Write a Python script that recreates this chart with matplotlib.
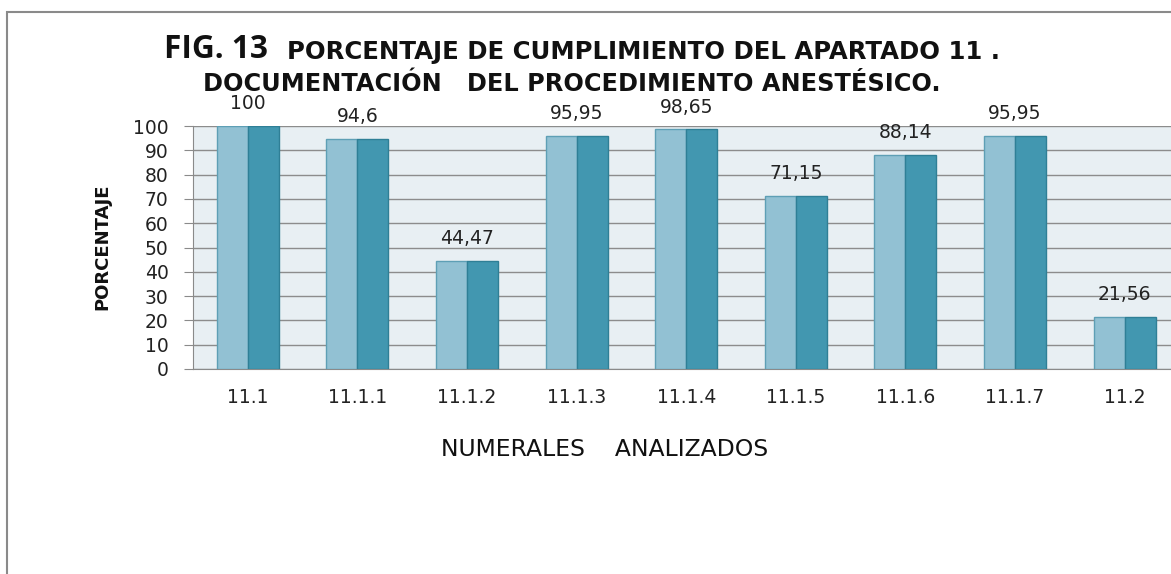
import matplotlib
matplotlib.use("Agg")
import matplotlib.pyplot as plt
from matplotlib.patches import Rectangle
import numpy as np

categories = ["11.1", "11.1.1", "11.1.2", "11.1.3", "11.1.4", "11.1.5", "11.1.6", "11.1.7", "11.2"]
serie_a = [100, 94.6, 44.47, 95.95, 98.65, 71.15, 88.14, 95.95, 21.56]
serie_b = [100, 94.6, 44.47, 95.95, 98.65, 71.15, 88.14, 95.95, 21.56]
yticks = [0, 10, 20, 30, 40, 50, 60, 70, 80, 90, 100]

W, H = 1171, 574
fig = plt.figure(figsize=(W / 100, H / 100), dpi=100)
fig.patch.set_facecolor("white")
renderer = fig.canvas.get_renderer()

def px(x0, y0, x1, y1):
    return [x0 / W, 1 - y1 / H, (x1 - x0) / W, (y1 - y0) / H]

def fit_width(t, target):
    w = t.get_window_extent(renderer).width
    t.set_fontsize(t.get_fontsize() * target / w)

# outer chart frame
fig.patches.append(Rectangle((7 / W, -0.1), 1.2, 1 - 12 / H + 0.1, transform=fig.transFigure,
                             fill=False, edgecolor="#8a8a8a", linewidth=1.5))

ax = fig.add_axes(px(193, 126, 193 + 9 * 109.6, 369))
ax.set_facecolor("#E8EFF3")
ax.set_xlim(-0.5, len(categories) - 0.5)
ax.set_ylim(0, 100)

x = np.arange(len(categories))
bw = 0.283
ax.bar(x - bw / 2, serie_a, width=bw, color="#92C1D3", edgecolor="#5E9FB5", linewidth=1, zorder=3)
ax.bar(x + bw / 2, serie_b, width=bw, color="#4297B0", edgecolor="#2F7F96", linewidth=1, zorder=3)

FS = 13.5
for xi, v in zip(x, serie_a):
    ax.annotate(f"{v:g}".replace(".", ","), xy=(xi, v), xytext=(0, 16), textcoords="offset points",
                ha="center", va="center", fontsize=FS, color="#222222", family="DejaVu Sans")

ax.set_yticks(yticks)
ax.set_yticklabels([str(t) for t in yticks], fontsize=FS, color="#222222")
ax.set_xticks(x)
ax.set_xticklabels(categories, fontsize=FS, color="#222222")
ax.tick_params(axis="y", length=6.5, color="#8a8a8a", pad=11)
ax.tick_params(axis="x", length=0, pad=14)
ax.grid(axis="y", color="#8c8c8c", linewidth=1, zorder=1)
ax.set_axisbelow(True)
for s in ["top", "right"]:
    ax.spines[s].set_visible(False)
ax.spines["left"].set_color("#8a8a8a")
ax.spines["bottom"].set_color("#8a8a8a")

yl = fig.text(102 / W, 1 - 247 / H, "PORCENTAJE", rotation=90, ha="center", va="center",
              fontsize=13, fontweight="bold", family="DejaVu Sans", color="#111111")
xl = fig.text(605 / W, 1 - 450 / H, "NUMERALES    ANALIZADOS", ha="center", va="center",
              fontsize=15, family="DejaVu Sans", color="#111111")
fit_width(xl, 327)

t1 = fig.text(164 / W, 1 - 50 / H, "FIG. 13", ha="left", va="center",
              fontsize=20, fontweight="bold", family="Open Sans", color="#111111")
fit_width(t1, 104)
t1b = fig.text(287 / W, 1 - 52 / H, "PORCENTAJE DE CUMPLIMIENTO DEL APARTADO 11 .", ha="left", va="center",
               fontsize=15, fontweight="bold", family="DejaVu Sans", color="#111111")
fit_width(t1b, 713)
t2 = fig.text(203 / W, 1 - 84 / H, "DOCUMENTACIÓN   DEL PROCEDIMIENTO ANESTÉSICO.", ha="left", va="center",
              fontsize=15, fontweight="bold", family="DejaVu Sans", color="#111111")
fit_width(t2, 734)

fig.savefig("out.png", dpi=100)
